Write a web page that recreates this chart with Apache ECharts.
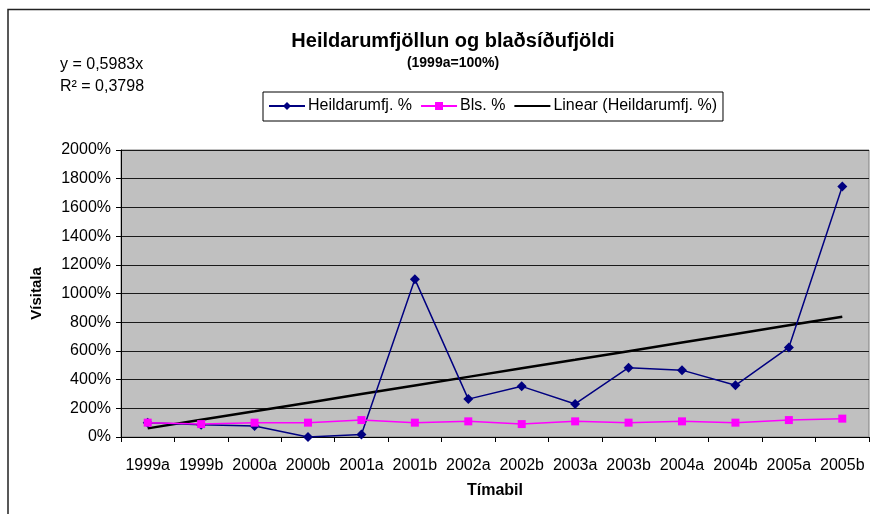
<!DOCTYPE html>
<html>
<head>
<meta charset="utf-8">
<script src="https://cdn.jsdelivr.net/npm/echarts@6/dist/echarts.min.js"></script>
<style>
  html, body { margin: 0; padding: 0; background: #fff; }
  #chart { width: 870px; height: 514px; }
</style>
</head>
<body>
<div id="chart"></div>
<script>
// tímabil (x-ás)
var timabil = ['1999a', '1999b', '2000a', '2000b', '2001a', '2001b', '2002a',
               '2002b', '2003a', '2003b', '2004a', '2004b', '2005a', '2005b'];

// Heildarumfj. %  (lesið af mynd)
var heildarumfj = [100, 86, 76, 0, 18, 1100, 264, 353, 230, 483, 466, 360, 624, 1745];

// Bls. %
var bls = [100, 90, 100, 100, 118, 100, 109, 90, 109, 100, 109, 100, 118, 128];

// Linear (Heildarumfj. %) - leitnilína
var linear = [60, 120, 179, 239, 299, 359, 419, 479, 538, 598, 658, 718, 778, 838];

var font = 'Liberation Sans';

var myChart = echarts.init(document.getElementById('chart'));

var option = {
    backgroundColor: '#fff',
    animation: false,
    title: {
        text: 'Heildarumfjöllun og blaðsíðufjöldi',
        subtext: '(1999a=100%)',
        left: 448,
        textAlign: 'center',
        top: 26,
        itemGap: 5,
        textStyle: { fontFamily: font, fontSize: 20, fontWeight: 'bold', color: '#000' },
        subtextStyle: { fontFamily: font, fontSize: 14, fontWeight: 'bold', color: '#000' }
    },
    legend: {
        left: 263,
        top: 92,
        padding: [6, 6, 7, 5],
        borderColor: '#000',
        borderWidth: 1,
        itemWidth: 36,
        itemHeight: 10,
        itemGap: 8,
        textStyle: { fontFamily: font, fontSize: 16, color: '#000', padding: [0, 0, 0, -2] },
        data: [
            'Heildarumfj. %',
            'Bls. %',
            { name: 'Linear (Heildarumfj. %)', itemStyle: { opacity: 0 } }
        ]
    },
    graphic: [
        {
            type: 'rect',
            shape: { x: 8, y: 9.5, width: 900, height: 600 },
            style: { fill: 'none', stroke: '#222', lineWidth: 1.5 },
            silent: true
        },
        {
            type: 'text', left: 60, top: 57,
            style: { text: 'y = 0,5983x', font: '16px ' + font, fill: '#000' }
        },
        {
            type: 'text', left: 60, top: 79,
            style: { text: 'R² = 0,3798', font: '16px ' + font, fill: '#000' }
        }
    ],
    grid: {
        left: 121,
        right: 1,
        top: 150,
        bottom: 77,
        show: true,
        backgroundColor: '#c0c0c0',
        borderColor: '#808080',
        borderWidth: 1
    },
    xAxis: {
        type: 'category',
        data: timabil,
        boundaryGap: true,
        name: 'Tímabil',
        nameLocation: 'middle',
        nameGap: 46,
        nameTextStyle: { fontFamily: font, fontSize: 16, fontWeight: 'bold', color: '#000' },
        axisLine: { lineStyle: { color: '#000', width: 1 } },
        axisTick: { show: true, alignWithLabel: false, length: 5, lineStyle: { color: '#000' } },
        axisLabel: { fontFamily: font, fontSize: 16, color: '#000', margin: 21, interval: 0 },
        splitLine: { show: false }
    },
    yAxis: {
        type: 'value',
        min: 0,
        max: 2000,
        interval: 200,
        name: 'Vísitala',
        nameLocation: 'middle',
        nameGap: 77,
        nameTextStyle: { fontFamily: font, fontSize: 15, fontWeight: 'bold', color: '#000' },
        axisLine: { show: true, lineStyle: { color: '#000', width: 1 } },
        axisTick: { show: true, length: 5, lineStyle: { color: '#000' } },
        axisLabel: {
            fontFamily: font, fontSize: 16, color: '#000', margin: 10,
            formatter: function (v) { return v + '%'; }
        },
        splitLine: { show: true, lineStyle: { color: '#1a1a1a', width: 1 } }
    },
    series: [
        {
            name: 'Heildarumfj. %',
            type: 'line',
            data: heildarumfj,
            symbol: 'diamond',
            symbolSize: 10,
            itemStyle: { color: '#000080' },
            lineStyle: { color: '#000080', width: 1.5 },
            z: 3
        },
        {
            name: 'Bls. %',
            type: 'line',
            data: bls,
            symbol: 'rect',
            symbolSize: 8,
            itemStyle: { color: '#ff00ff' },
            lineStyle: { color: '#ff00ff', width: 1.5 },
            z: 4
        },
        {
            name: 'Linear (Heildarumfj. %)',
            type: 'line',
            data: linear,
            symbol: 'none',
            lineStyle: { color: '#000', width: 2.5 },
            z: 2
        }
    ]
};

myChart.setOption(option);
</script>
</body>
</html>
